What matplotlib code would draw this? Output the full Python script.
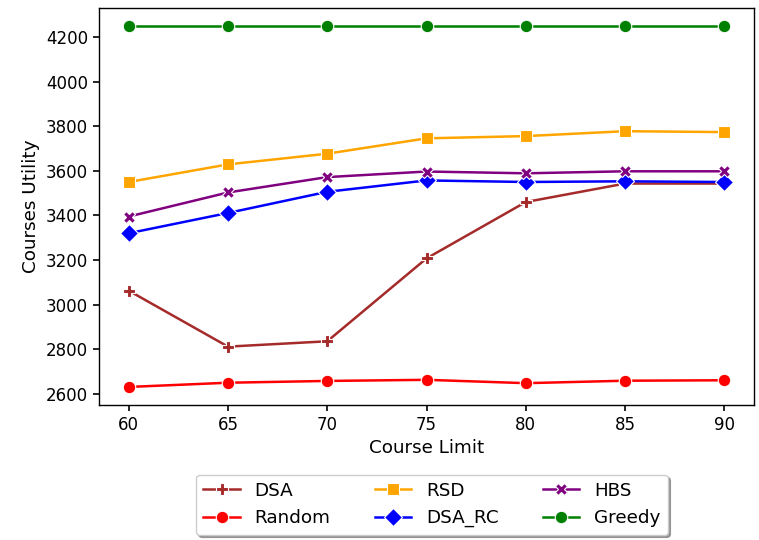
import matplotlib
matplotlib.use("Agg")
import matplotlib.pyplot as plt

course_limit = [60, 65, 70, 75, 80, 85, 90]
dsa = [3062, 2811, 2835, 3207, 3460, 3543, 3543]
random_ = [2630, 2649, 2657, 2662, 2647, 2658, 2660]
rsd = [3550, 3629, 3677, 3746, 3756, 3778, 3774]
dsa_rc = [3320, 3411, 3506, 3557, 3550, 3553, 3550]
hbs = [3395, 3503, 3572, 3597, 3589, 3598, 3598]
greedy = [4250, 4250, 4250, 4250, 4250, 4250, 4250]

series = [
    ("DSA", dsa, "brown", "P"),
    ("Random", random_, "red", "o"),
    ("RSD", rsd, "orange", "s"),
    ("DSA_RC", dsa_rc, "blue", "D"),
    ("HBS", hbs, "purple", "X"),
    ("Greedy", greedy, "green", "o"),
]

fig = plt.figure(figsize=(7.59, 5.40), dpi=100)
ax = fig.add_axes([99/759, 1-405/540, (754-99)/759, (405-8)/540])
for name, vals, col, mk in series:
    ax.plot(course_limit, vals, color=col, marker=mk, markersize=9,
            markeredgecolor="white", markeredgewidth=0.8, linewidth=1.8, label=name)

ax.set_xlabel("Course Limit", fontsize=13.2)
ax.set_ylabel("Courses Utility", fontsize=13.2)
ax.set_xticks(course_limit)
ax.set_yticks(range(2600, 4201, 200))
ax.tick_params(labelsize=12, width=1.2, length=4.2)
for s in ax.spines.values():
    s.set_linewidth(1.0)
ax.legend(loc="upper center", bbox_to_anchor=(0.508, -0.152), ncol=3,
          fancybox=True, shadow=True, fontsize=13.2, columnspacing=2.4,
          borderpad=0.4, labelspacing=0.5)
fig.savefig("out.png", dpi=100)
